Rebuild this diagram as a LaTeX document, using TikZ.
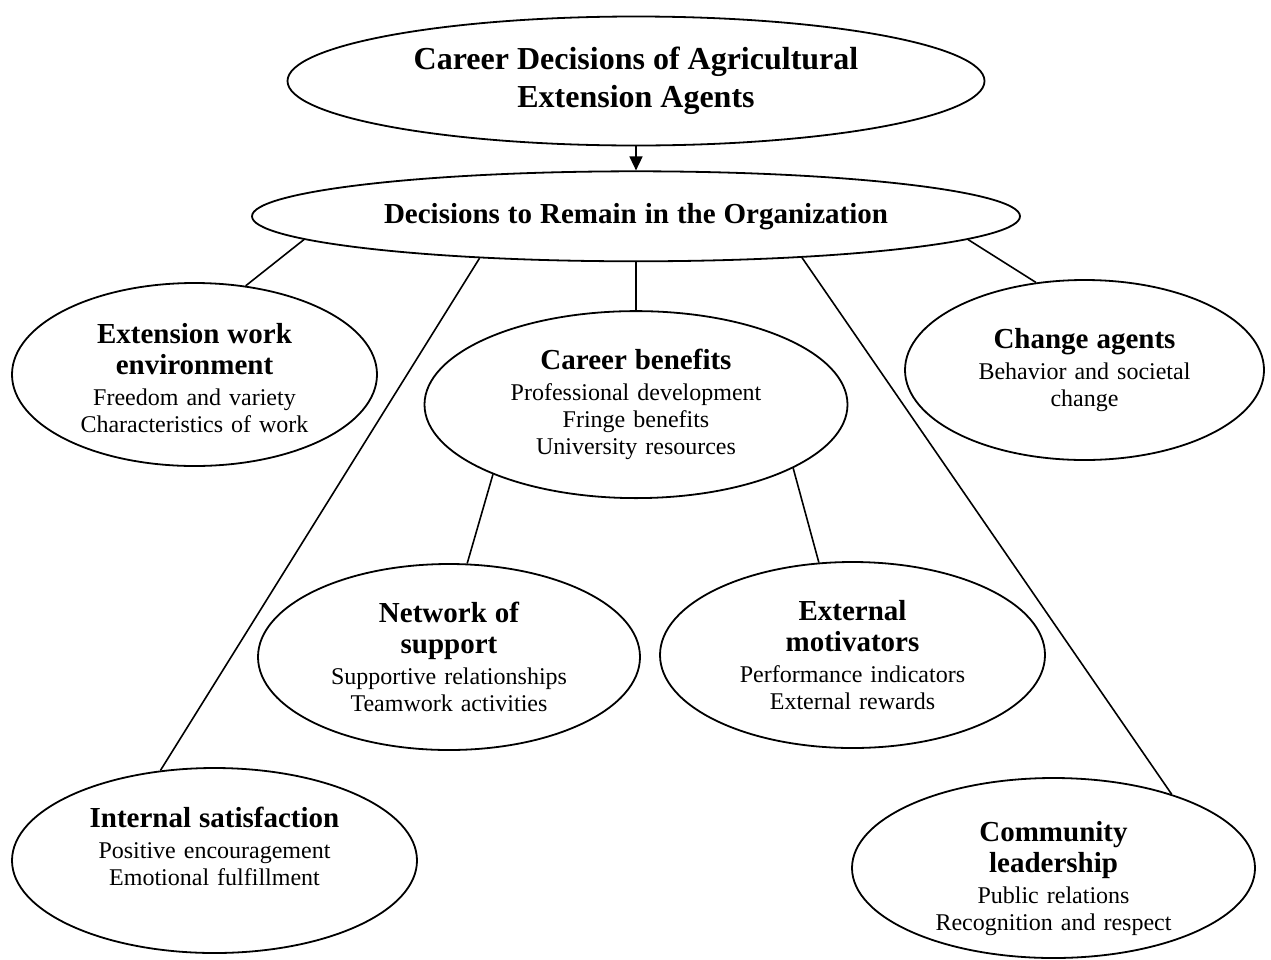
\documentclass[tikz,border=0pt]{standalone}
\usepackage{fontspec}
\setmainfont{Liberation Serif}
\usetikzlibrary{positioning,shapes.geometric,arrows.meta}

\newcommand{\hd}[1]{{\fontsize{29}{32}\selectfont\bfseries #1}}

\begin{document}
\begin{tikzpicture}[x=1pt,y=-1pt,node distance=23pt,>={Triangle[length=14pt,width=13pt]},font=\fontsize{24}{27}\selectfont]

	\tikzstyle{oval}=[draw=black,line width=1.8pt,ellipse,inner sep=0pt,align=center,text width=250pt]
	\tikzstyle{link}=[line width=1.6pt]

	\useasboundingbox (0,0) rectangle (1271,959);

	\node[oval,minimum width=697pt,minimum height=129pt,text width=460pt] (top) at (636,81) {\fontsize{32}{39}\selectfont\bfseries Career Decisions of Agricultural\\[8pt] Extension Agents};
	\node[oval,minimum width=768pt,minimum height=90pt,text width=520pt,below=24pt of top] (remain) {\hd{Decisions to Remain in the Organization}};
	\node[oval,minimum width=423pt,minimum height=187pt,text width=290pt,below=48pt of remain] (benefits) {\hd{Career benefits}\\[4pt] Professional development\\ Fringe benefits\\ University resources};

	\node[oval,minimum width=365pt,minimum height=183pt,text height=26pt,text depth=89pt] (env) at (194.5,374.5) {\hd{Extension work}\\[4pt] \hd{environment}\\[4pt] Freedom and variety\\ Characteristics of work};
	\node[oval,minimum width=359pt,minimum height=180pt] (change) at (1084.5,370) {\hd{Change agents}\\[4pt] Behavior and societal\\ change};
	\node[oval,minimum width=382pt,minimum height=186pt] (network) at (449,657) {\hd{Network of}\\[4pt] \hd{support}\\[4pt] Supportive relationships\\ Teamwork activities};
	\node[oval,minimum width=385pt,minimum height=186pt] (external) at (852.5,655) {\hd{External}\\[4pt] \hd{motivators}\\[4pt] Performance indicators\\ External rewards};
	\node[oval,minimum width=405pt,minimum height=185pt,text height=20pt,text depth=86pt] (internal) at (214.5,860.5) {\hd{Internal satisfaction}\\[4pt] Positive encouragement\\ Emotional fulfillment};
	\node[oval,minimum width=403pt,minimum height=180pt,text height=36pt,text depth=90pt] (community) at (1053.5,868) {\hd{Community}\\[4pt] \hd{leadership}\\[4pt] Public relations\\ Recognition and respect};

	\draw[->,link] (top) -- (remain);
	\draw[link] (remain.184) -- (env.60);
	\draw[link] (remain.195) -- (internal.121.5);
	\draw[link] (remain) -- (benefits);
	\draw[link] (remain.346.7) -- (community.32.5);
	\draw[link] (remain.356.3) -- (change.119);
	\draw[link] (benefits.206) -- (network.79);
	\draw[link] (benefits.338) -- (external.110);
\end{tikzpicture}
\end{document}
